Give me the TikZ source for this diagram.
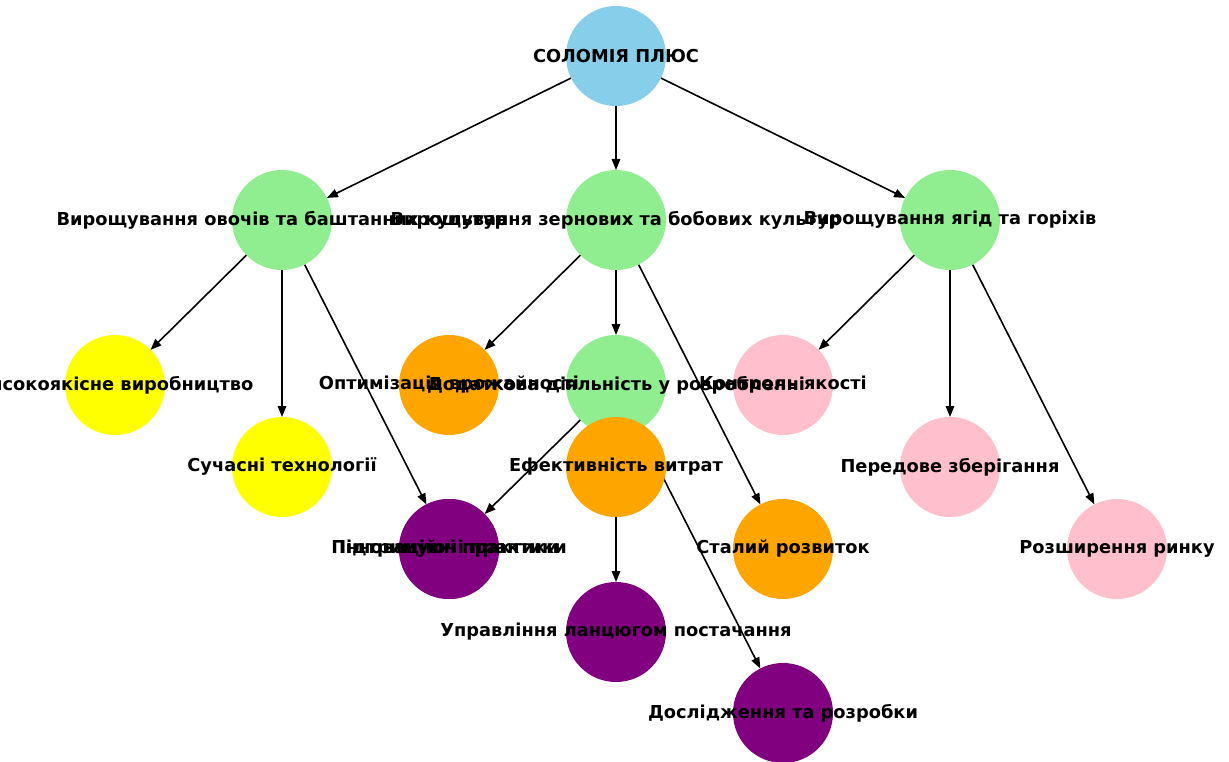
\documentclass[tikz,border=0pt]{standalone}
\usepackage{fontspec}
\setmainfont{DejaVu Sans}
\usetikzlibrary{arrows.meta}
\pgfdeclarelayer{bg}
\pgfsetlayers{bg,main}
\definecolor{cskyblue}{RGB}{135,206,235}
\definecolor{cgreen}{RGB}{144,238,144}
\definecolor{cyellow}{RGB}{255,255,0}
\definecolor{corange}{RGB}{255,165,0}
\definecolor{cpurple}{RGB}{128,0,128}
\definecolor{cpink}{RGB}{255,192,203}
\begin{document}
\begin{tikzpicture}[x=1pt,y=-1pt,
  dot/.style={circle,minimum size=100pt,inner sep=0pt,outer sep=0pt,draw=none},
  lab/.style={font=\fontsize{17.8}{21}\selectfont\bfseries,inner sep=0pt},
  edgeline/.style={-{Triangle[length=11pt,width=8.5pt]},line width=1.6pt,black}]
\useasboundingbox (0,0) rectangle (1229,762);
\node[dot,fill=cskyblue] (n1) at (616,56) {};
\node[dot,fill=cgreen] (n2) at (282,220) {};
\node[dot,fill=cgreen] (n3) at (616,220) {};
\node[dot,fill=cgreen] (n4) at (950,220) {};
\node[dot,fill=cyellow] (n5) at (115,385) {};
\node[dot,fill=cyellow] (n6) at (282,467) {};
\node[dot,fill=cpurple] (n7) at (449,549) {};
\node[dot,fill=cpurple] (n7b) at (449,549) {};
\node[dot,fill=corange] (n8) at (449,385) {};
\node[dot,fill=cgreen] (n9) at (616,385) {};
\node[dot,fill=corange] (n10) at (783,549) {};
\node[dot,fill=cpink] (n11) at (783,385) {};
\node[dot,fill=cpink] (n12) at (950,467) {};
\node[dot,fill=cpink] (n13) at (1117,549) {};
\node[dot,fill=corange] (n14) at (616,467) {};
\node[dot,fill=cpurple] (n15) at (616,632) {};
\node[dot,fill=cpurple] (n16) at (783,713) {};
\begin{pgfonlayer}{bg}
\draw[edgeline] (n1) -- (n2);
\draw[edgeline] (n1) -- (n3);
\draw[edgeline] (n1) -- (n4);
\draw[edgeline] (n2) -- (n5);
\draw[edgeline] (n2) -- (n6);
\draw[edgeline] (n2) -- (n7);
\draw[edgeline] (n3) -- (n8);
\draw[edgeline] (n3) -- (n9);
\draw[edgeline] (n3) -- (n10);
\draw[edgeline] (n4) -- (n11);
\draw[edgeline] (n4) -- (n12);
\draw[edgeline] (n4) -- (n13);
\draw[edgeline] (n9) -- (n7b);
\draw[edgeline] (n9) -- (n16);
\draw[edgeline] (n14) -- (n15);
\end{pgfonlayer}
\node[lab] at (n1) {СОЛОМІЯ ПЛЮС};
\node[lab] at (n2) {Вирощування овочів та баштанних культур};
\node[lab] at (n3) {Вирощування зернових та бобових культур};
\node[lab] at (n4) {Вирощування ягід та горіхів};
\node[lab] at (n5) {Високоякісне виробництво};
\node[lab] at (n6) {Сучасні технології};
\node[lab] at (n7) {Інноваційні практики};
\node[lab] at (n7b) {Підтримуючі практики};
\node[lab] at (n8) {Оптимізація врожайності};
\node[lab] at (n9) {Додаткова діяльність у розробленні};
\node[lab] at (n10) {Сталий розвиток};
\node[lab] at (n11) {Контроль якості};
\node[lab] at (n12) {Передове зберігання};
\node[lab] at (n13) {Розширення ринку};
\node[lab] at (n14) {Ефективність витрат};
\node[lab] at (n15) {Управління ланцюгом постачання};
\node[lab] at (n16) {Дослідження та розробки};
\end{tikzpicture}
\end{document}
